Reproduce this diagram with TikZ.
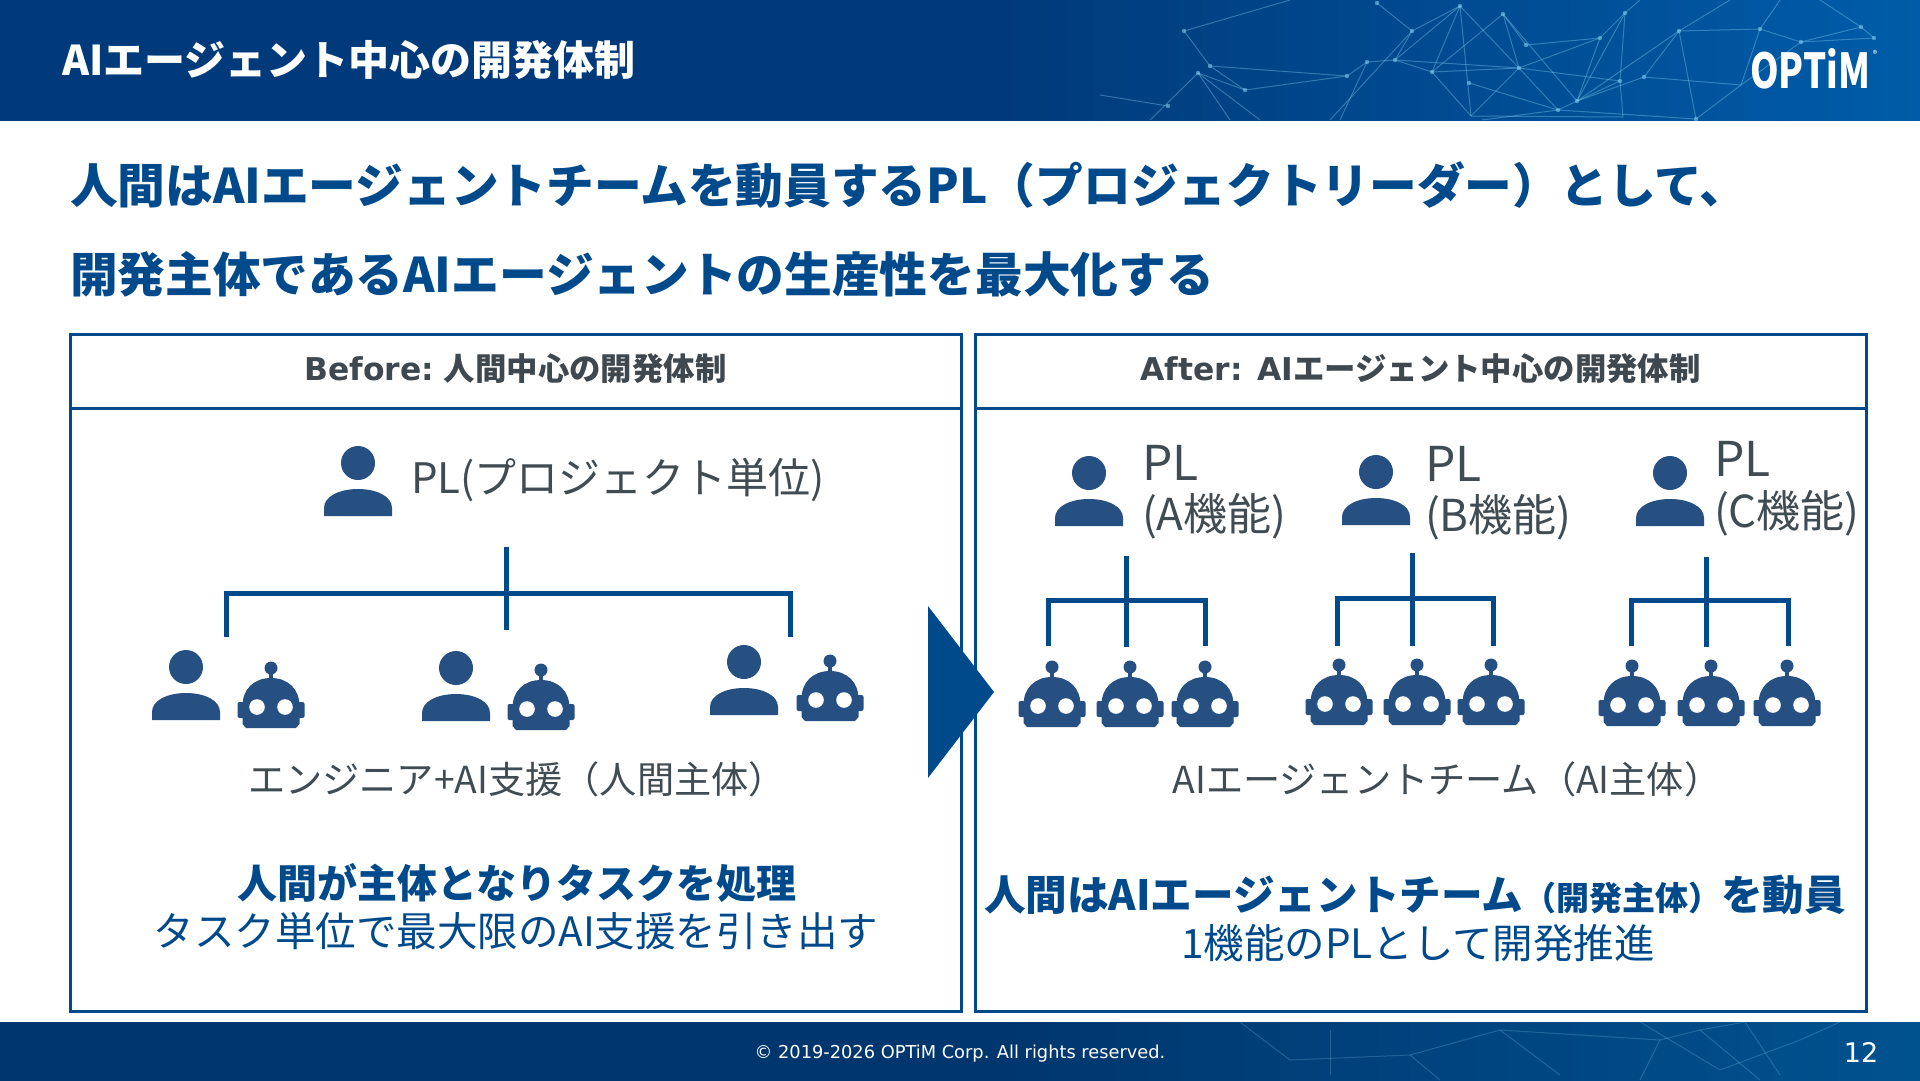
\documentclass[tikz,border=0pt]{standalone}
\usepackage{fontspec}
\usepackage{graphicx}
\setmainfont{Noto Sans CJK JP}
\newfontfamily\verd{DejaVu Sans}
\newcommand{\fsz}[1]{\fontsize{#1}{#1}\selectfont}
\definecolor{brand}{HTML}{004A8C}
\definecolor{bandl}{HTML}{003A7A}
\definecolor{bandr}{HTML}{005CA8}
\definecolor{footl}{HTML}{00366E}
\definecolor{footr}{HTML}{00528F}
\definecolor{icon}{HTML}{264F82}
\definecolor{greytxt}{HTML}{404B52}
\definecolor{boldgrey}{HTML}{3F484E}
\definecolor{net}{HTML}{7CC8EC}
\pgfdeclarehorizontalshading{bandshade}{100bp}{color(0bp)=(bandl); color(51bp)=(bandl); color(75bp)=(bandr); color(100bp)=(bandr)}
\pgfdeclarehorizontalshading{footshade}{100bp}{color(0bp)=(footl); color(51bp)=(footl); color(75bp)=(footr); color(100bp)=(footr)}
\tikzset{
  x=1pt,y=-1pt,
  panel/.style={draw=brand,line width=3pt,rectangle,minimum height=#1,inner sep=0pt,outer sep=0pt},
  tree/.style={draw=brand,line width=5pt},
  netline/.style={draw=net,line width=1pt,opacity=.4},
  netdot/.style={fill=net,opacity=.6},
  person/.pic={
    \fill[icon] (0,-53) circle (17);
    \fill[icon] (-34,0) -- (-34,-8) .. controls (-34,-20) and (-18,-27) .. (0,-27) .. controls (18,-27) and (34,-20) .. (34,-8) -- (34,0) -- cycle;
  },
  robot/.pic={
    \fill[icon] (0,-60) circle (6.5);
    \fill[icon] (-2.2,-60) rectangle (2.2,-46);
    \fill[icon,rounded corners=2pt] (-33.5,-26) rectangle (33.5,-10);
    \fill[icon] (-25,0) -- (-28.5,-4) -- (-28.5,-22) .. controls (-28.5,-39) and (-17,-50) .. (0,-50) .. controls (17,-50) and (28.5,-39) .. (28.5,-22) -- (28.5,-4) -- (25,0) -- cycle;
    \fill[white] (-14,-21) circle (7.8);
    \fill[white] (14,-21) circle (7.8);
  },
  plain/.style={inner sep=0pt,outer sep=0pt},
  headtxt/.style={plain,text=brand,font=\bfseries\fsz{47.7},anchor=west},
  paneltxt/.style={text=boldgrey,font=\bfseries\fsz{31.4}},
  captxt/.style={plain,text=greytxt,font=\fsz{37.2},anchor=center},
  pltxt/.style={plain,text=greytxt,font=\fsz{48},anchor=west},
  subtxt/.style={plain,text=greytxt,font=\fsz{44},anchor=west},
  strongtxt/.style={plain,text=brand,font=\bfseries\fsz{40},anchor=center},
  bluetxt/.style={plain,text=brand,font=\fsz{40.5},anchor=center},
}
\begin{document}
\begin{tikzpicture}
\useasboundingbox (0,0) rectangle (1920,1080);
\fill[white] (0,0) rectangle (1920,1080);
% header band
\shade[shading=bandshade] (0,0) rectangle (1920,120);
\begin{scope}
\clip (0,0) rectangle (1920,120);
\foreach \a/\b/\c/\d in {
 1184/31/1210/66,1210/66/1245/90,1198/73/1245/90,1198/73/1150/120,1198/73/1230/120,1198/73/1260/120,1210/66/1347/76,1245/90/1347/76,
 1168/106/1100/95,1184/31/1290/0,1347/76/1367/62,1367/62/1395/60,1395/60/1412/31,1412/31/1377/3,1412/31/1460/6,1395/60/1460/6,1395/60/1432/72,
 1432/72/1460/6,1432/72/1503/14,1460/6/1519/68,1503/14/1519/68,1503/14/1526/45,1432/72/1519/68,1432/72/1471/116,1519/68/1471/116,1519/68/1558/110,
 1469/83/1558/110,1519/68/1620/81,1519/68/1600/38,1526/45/1600/38,1600/38/1625/13,1625/13/1620/81,1600/38/1577/101,1620/81/1577/101,1577/101/1558/110,
 1558/110/1482/120,1577/101/1644/77,1644/77/1679/31,1679/31/1577/101,1679/31/1696/119,1644/77/1741/85,1741/85/1696/119,1620/81/1623/117,1625/13/1577/101,
 1679/31/1760/29,1760/29/1801/42,1801/42/1861/27,1861/27/1874/38,1760/29/1741/85,1801/42/1741/85,1679/31/1730/0,1625/13/1640/0,1760/29/1780/0,1861/27/1820/0,1801/42/1874/38,
 1367/62/1340/120,1395/60/1519/68,1471/116/1623/117,1558/110/1696/119,1412/31/1330/120,1503/14/1577/101,1460/6/1471/116}{
  \draw[netline] (\a,\b) -- (\c,\d);
}
\foreach \a/\b in {1184/31,1210/66,1198/73,1245/90,1168/106,1347/76,1367/62,1395/60,1412/31,1377/3,1460/6,1503/14,1432/72,1469/83,1519/68,1526/45,1600/38,1625/13,1620/81,1644/77,1679/31,1577/101,1558/110,1696/119,1760/29,1801/42,1861/27,1874/38}{
  \fill[netdot] (\a,\b) circle (2.2);
}
\end{scope}
% footer band
\shade[shading=footshade] (0,1022) rectangle (1920,1080);
\begin{scope}
\clip (0,1022) rectangle (1920,1080);
\foreach \a/\b/\c/\d in {
 1240/1022/1290/1060,1290/1060/1410/1055,1330/1030/1330/1075,1410/1055/1500/1030,1500/1030/1560/1075,1500/1030/1660/1040,1640/1022/1720/1070,1660/1040/1700/1030,
 1700/1030/1760/1080,1700/1030/1745/1022,1720/1070/1800/1040,1745/1022/1780/1075,1800/1040/1840/1022,1660/1040/1640/1080,1410/1055/1440/1080}{
  \draw[netline,opacity=.25] (\a,\b) -- (\c,\d);
}
\end{scope}
% header and footer texts
\node[plain,anchor=west,text=white,font=\bfseries\fsz{41}] (pagetitle) at (62,60) {AIエージェント中心の開発体制};
\node[plain,anchor=center,text=white] (logo) at (1810,69) {\resizebox{120pt}{40pt}{\bfseries OPTiM}};
\node[plain,anchor=center,text=white,font=\fsz{9}] (logomark) at (1875,54) {®};
\node[plain,anchor=center,text=white,font=\verd\fsz{17.8}] (copyright) at (960,1053.5) {© 2019-2026 OPTiM Corp. All rights reserved.};
\node[plain,anchor=center,text=white,font=\verd\fsz{27}] (pageno) at (1861,1052) {12};
% headline
\node[headtxt] (headA) at (70,185) {人間はAIエージェントチームを動員するPL（プロジェクトリーダー）として、};
\node[headtxt] (headB) at (70,274) {開発主体であるAIエージェントの生産性を最大化する};
% panels
\node[panel=603pt,minimum width=891pt,anchor=north west] (leftbody) at (70,408) {};
\node[panel=74pt,minimum width=891pt,anchor=north west,paneltxt] (lefthead) at (70,334) {\raisebox{-9pt}[0pt][0pt]{{\verd Before:} 人間中心の開発体制}};
\node[panel=603pt,minimum width=891pt,anchor=north west] (rightbody) at (975,408) {};
\node[panel=74pt,minimum width=891pt,anchor=north west,paneltxt] (righthead) at (975,334) {\raisebox{-9pt}[0pt][0pt]{{\verd After: AI}エージェント中心の開発体制}};
% arrow
\fill[brand] (928,606) -- (994,692) -- (928,778) -- cycle;
% left tree
\pic at (358,516) {person};
\node[pltxt,font=\fsz{42}] (plmain) at (411,480) {PL(プロジェクト単位)};
\coordinate (lTop) at (506,547);
\coordinate (lMid) at (506,630);
\coordinate (lHubL) at (226,593);
\coordinate (lHubR) at (790,593);
\coordinate (lLegL) at (226,637);
\coordinate (lLegR) at (790,637);
\draw[tree] (lTop) -- (lMid);
\draw[tree,line join=miter] (lLegL) -- (lHubL) -- (lHubR) -- (lLegR);
\pic at (186,720) {person};
\pic at (271,728) {robot};
\pic at (456,721) {person};
\pic at (541,730) {robot};
\pic at (744,715) {person};
\pic at (830,721) {robot};
\node[captxt] (capL) at (517,779) {エンジニア+AI支援（人間主体）};
\node[strongtxt] (strongL) at (517,883) {人間が主体となりタスクを処理};
\node[bluetxt] (blueL) at (516,931) {タスク単位で最大限のAI支援を引き出す};
% right group A
\pic at (1089,526) {person};
\node[pltxt] (plA) at (1142,463) {PL};
\node[subtxt] (subA) at (1142,516) {(A機能)};
\coordinate (aTop) at (1126,556);
\coordinate (aMid) at (1126,647);
\coordinate (aLegL) at (1048,646);
\coordinate (aHubL) at (1048,600);
\coordinate (aHubR) at (1205,600);
\coordinate (aLegR) at (1205,646);
\draw[tree] (aTop) -- (aMid);
\draw[tree,line join=miter] (aLegL) -- (aHubL) -- (aHubR) -- (aLegR);
\pic at (1052,727) {robot};
\pic at (1130,727) {robot};
\pic at (1205,727) {robot};
% right group B
\pic at (1376,525) {person};
\node[pltxt] (plB) at (1425,464) {PL};
\node[subtxt] (subB) at (1425,517) {(B機能)};
\coordinate (bTop) at (1412,553);
\coordinate (bMid) at (1412,646);
\coordinate (bLegL) at (1337,646);
\coordinate (bHubL) at (1337,598);
\coordinate (bHubR) at (1493,598);
\coordinate (bLegR) at (1493,646);
\draw[tree] (bTop) -- (bMid);
\draw[tree,line join=miter] (bLegL) -- (bHubL) -- (bHubR) -- (bLegR);
\pic at (1339,725) {robot};
\pic at (1417,725) {robot};
\pic at (1491,725) {robot};
% right group C
\pic at (1670,526) {person};
\node[pltxt] (plC) at (1714,459) {PL};
\node[subtxt] (subC) at (1714,513) {(C機能)};
\coordinate (cTop) at (1706,557);
\coordinate (cMid) at (1706,647);
\coordinate (cLegL) at (1631,646);
\coordinate (cHubL) at (1631,600);
\coordinate (cHubR) at (1788,600);
\coordinate (cLegR) at (1788,646);
\draw[tree] (cTop) -- (cMid);
\draw[tree,line join=miter] (cLegL) -- (cHubL) -- (cHubR) -- (cLegR);
\pic at (1632,726) {robot};
\pic at (1711,726) {robot};
\pic at (1787,726) {robot};
% right texts
\node[captxt] (capR) at (1447,779) {AIエージェントチーム（AI主体）};
\node[strongtxt,font=\bfseries\fsz{41.6}] (strongR) at (1415,895) {人間はAIエージェントチーム{\fsz{33}（開発主体）}を動員};
\node[bluetxt] (blueR) at (1418,943) {1機能のPLとして開発推進};
\end{tikzpicture}
\end{document}
